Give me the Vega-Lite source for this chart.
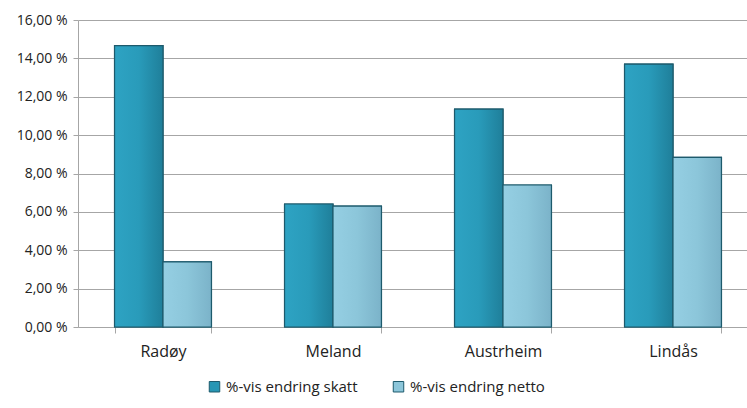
{
  "$schema": "https://vega.github.io/schema/vega-lite/v6.json",
  "autosize": {"type": "none"},
  "width": 669,
  "height": 307,
  "padding": {"left": 78, "top": 20, "right": 0, "bottom": 81},
  "background": "#ffffff",
  "data": {
    "values": [
      {"kommune": "Radøy", "serie": "%-vis endring skatt", "verdi": 14.66},
      {"kommune": "Radøy", "serie": "%-vis endring netto", "verdi": 3.39},
      {"kommune": "Meland", "serie": "%-vis endring skatt", "verdi": 6.41},
      {"kommune": "Meland", "serie": "%-vis endring netto", "verdi": 6.30},
      {"kommune": "Austrheim", "serie": "%-vis endring skatt", "verdi": 11.36},
      {"kommune": "Austrheim", "serie": "%-vis endring netto", "verdi": 7.40},
      {"kommune": "Lindås", "serie": "%-vis endring skatt", "verdi": 13.70},
      {"kommune": "Lindås", "serie": "%-vis endring netto", "verdi": 8.84}
    ]
  },
  "encoding": {
    "x": {
      "field": "kommune", "type": "nominal", "sort": null,
      "scale": {"range": [0, 680], "paddingInner": 0.43, "paddingOuter": 0.215},
      "axis": {"title": null, "labelAngle": 0, "labelFont": "Open Sans", "labelFontSize": 16, "labelFontWeight": "normal", "labelColor": "#222222", "labelPadding": 10, "domainColor": "#a6a6a6", "tickColor": "#a6a6a6", "tickBand": "extent", "tickSize": 6}
    },
    "xOffset": {"field": "serie", "type": "nominal", "sort": ["%-vis endring skatt", "%-vis endring netto"]},
    "y": {
      "field": "verdi", "type": "quantitative",
      "scale": {"domain": [0, 16]},
      "axis": {"title": null, "values": [0, 2, 4, 6, 8, 10, 12, 14, 16], "labelExpr": "replace(format(datum.value, '.2f'), '.', ',') + ' %'", "labelFont": "Open Sans", "labelFontSize": 14, "labelFontWeight": "normal", "labelColor": "#222222", "labelPadding": 6, "gridColor": "#a6a6a6", "domainColor": "#a6a6a6", "tickColor": "#a6a6a6", "tickSize": 5}
    }
  },
  "layer": [
    {
      "mark": {"type": "bar", "stroke": "#1d5a6c", "strokeWidth": 1.2},
      "encoding": {
        "color": {
          "field": "serie", "type": "nominal", "sort": ["%-vis endring skatt", "%-vis endring netto"],
          "scale": {"range": ["#2796b4", "#8cc6da"]},
          "legend": {"title": null, "orient": "none", "direction": "horizontal", "legendX": 129, "legendY": 359, "labelFont": "Open Sans", "labelFontSize": 15, "labelColor": "#222222", "symbolType": "square", "symbolSize": 110, "symbolStrokeColor": "#1d5a6c", "symbolStrokeWidth": 1, "columnPadding": 33, "labelOffset": 4}
        }
      }
    },
    {
      "mark": {"type": "bar", "stroke": "#1d5a6c", "strokeWidth": 1.2},
      "encoding": {
        "fill": {
          "condition": {
            "test": "datum.serie === '%-vis endring skatt'",
            "value": {"gradient": "linear", "x1": 0, "y1": 0, "x2": 1, "y2": 0, "stops": [{"offset": 0, "color": "#2ea3c3"}, {"offset": 0.5, "color": "#299bba"}, {"offset": 1, "color": "#1f7f9a"}]}
          },
          "value": {"gradient": "linear", "x1": 0, "y1": 0, "x2": 1, "y2": 0, "stops": [{"offset": 0, "color": "#95cfe3"}, {"offset": 0.5, "color": "#8cc6da"}, {"offset": 1, "color": "#7bb3c9"}]}
        }
      }
    }
  ],
  "config": {"view": {"stroke": null}}
}
